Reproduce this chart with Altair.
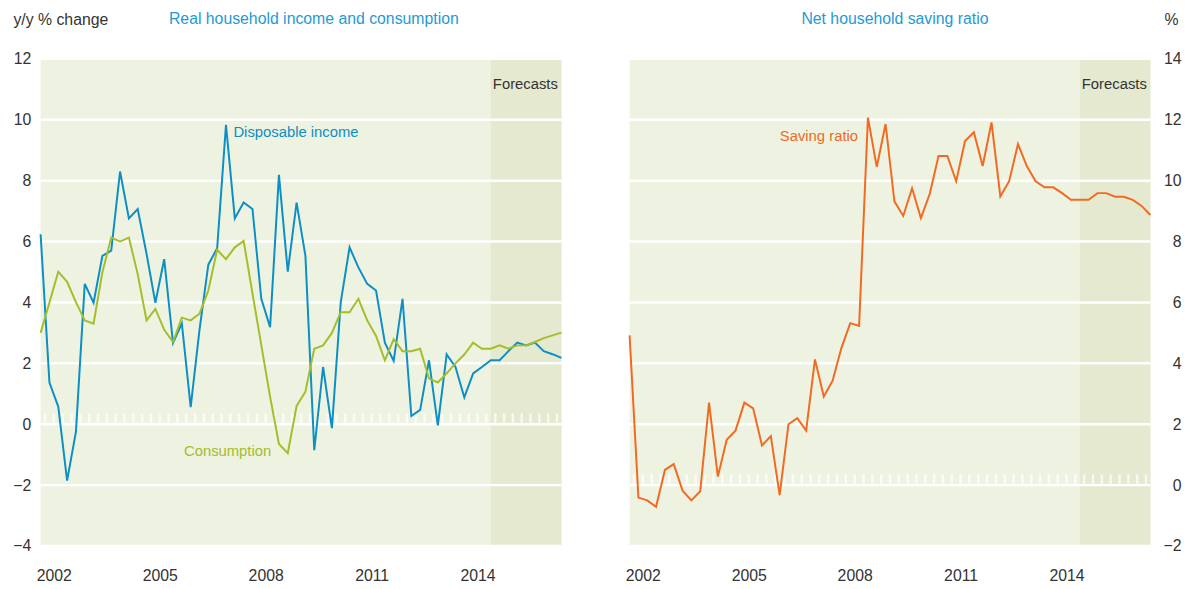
import altair as alt
import pandas as pd

# ---------------- data ----------------
years = list(range(2002, 2017))
quarter_nums = [1, 2, 3, 4]

income = [6.24, 1.37, 0.58, -1.85, -0.25, 4.61, 3.99, 5.53, 5.70, 8.30,
          6.76, 7.07, 5.60, 3.99, 5.42, 2.67, 3.31, 0.56, 3.10, 5.24,
          5.78, 9.83, 6.76, 7.28, 7.07, 4.12, 3.19, 8.19, 5.01, 7.28,
          5.53, -0.85, 1.88, -0.13, 4.00, 5.81, 5.15, 4.61, 4.39, 2.68,
          2.08, 4.12, 0.27, 0.47, 2.10, -0.04, 2.29, 1.88, 0.88, 1.67,
          1.88, 2.10, 2.10, 2.40, 2.68, 2.59, 2.68, 2.40, 2.30, 2.18]

consumption = [3.00, 4.00, 5.01, 4.68, 4.01, 3.41, 3.30, 4.99, 6.13, 6.00,
               6.13, 4.93, 3.41, 3.79, 3.10, 2.70, 3.50, 3.41, 3.63, 4.39,
               5.73, 5.42, 5.81, 6.02, 4.30, 2.60, 0.90, -0.65, -0.95, 0.60,
               1.07, 2.48, 2.59, 3.00, 3.68, 3.68, 4.12, 3.41, 2.90, 2.10,
               2.79, 2.40, 2.40, 2.48, 1.50, 1.37, 1.67, 2.00, 2.29, 2.68,
               2.48, 2.48, 2.59, 2.48, 2.59, 2.59, 2.70, 2.83, 2.92, 3.01]

saving = [4.92, -0.41, -0.50, -0.71, 0.50, 0.69, -0.18, -0.50, -0.20, 2.71,
          0.28, 1.49, 1.79, 2.71, 2.52, 1.30, 1.61, -0.33, 2.00, 2.20,
          1.79, 4.13, 2.91, 3.43, 4.51, 5.32, 5.23, 12.07, 10.45, 11.86,
          9.32, 8.84, 9.75, 8.77, 9.56, 10.81, 10.81, 9.98, 11.30, 11.59,
          10.48, 11.91, 9.48, 9.98, 11.20, 10.48, 9.98, 9.78, 9.78, 9.59,
          9.37, 9.37, 9.37, 9.59, 9.59, 9.47, 9.47, 9.37, 9.17, 8.87]

year_labels = [2002, 2005, 2008, 2011, 2014]
left_ticks = [-4, -2, 0, 2, 4, 6, 8, 10, 12]
right_ticks = [-2, 0, 2, 4, 6, 8, 10, 12, 14]
forecast_start = 2014.75
forecast_end = 2016.75

# ---------------- styling ----------------
FONT = "Liberation Sans, Arial, Helvetica, sans-serif"
FS = 16
FS_ANN = 15
TXT = "#333333"
BG = "#EEF2E1"
FC_BG = "#E4E9CF"
BLUE = "#0B8FC5"
GREEN = "#A4BD2B"
ORANGE = "#F26A21"
TITLE_BLUE = "#1E9AD4"
W, H = 527, 493

# ---------------- tables ----------------
t = [y + (q - 1) / 4 for y in years for q in quarter_nums]
qt_marks = [v + 0.125 for v in t[:-1]]

left_df = pd.DataFrame({
    "t": t * 2,
    "value": income + consumption,
    "series": ["Disposable income"] * len(t) + ["Consumption"] * len(t),
})
right_df = pd.DataFrame({"t": t, "value": saving, "series": ["Saving ratio"] * len(t)})
ticks_df = pd.DataFrame({"tm": qt_marks})
fc_df = pd.DataFrame({"start": [forecast_start], "end": [forecast_end]})

x_scale = alt.Scale(domain=[2002, 2016.75], nice=False, zero=False)
x_axis = alt.Axis(values=[y + 0.375 for y in year_labels], labelExpr="'' + floor(datum.value)",
                  title=None, ticks=False, domain=False, grid=False, labelFont=FONT,
                  labelFontSize=FS, labelColor=TXT, labelPadding=22)


def panel(df, ydomain, yvals, colors, ann, orient, ytitle, title, title_dx):
    y_scale = alt.Scale(domain=ydomain, nice=False, zero=False)
    common = dict(values=yvals, orient=orient, title=ytitle, grid=False, ticks=False,
                  domain=False, labelFont=FONT, labelFontSize=FS, labelColor=TXT,
                  titleAngle=0, titleBaseline="alphabetic", titleY=-35,
                  titleFont=FONT, titleFontSize=FS, titleFontWeight="normal",
                  titleColor=TXT, labelExpr="replace(datum.label, '-', '\u2212')")
    if orient == "left":
        y_axis = alt.Axis(labelPadding=10, titleAlign="left", titleX=-28, **common)
    else:
        y_axis = alt.Axis(labelPadding=31, labelAlign="right", titleAlign="right",
                          titleX=28, **common)

    grid_df = pd.DataFrame({"v": yvals})
    fc = alt.Chart(fc_df).mark_rect(color=FC_BG).encode(
        x=alt.X("start:Q", scale=x_scale, axis=x_axis), x2="end:Q")
    grid = alt.Chart(grid_df).mark_rule(color="white", strokeWidth=2.5).encode(
        y=alt.Y("v:Q", scale=y_scale, axis=y_axis))
    qt = alt.Chart(ticks_df).mark_tick(orient="vertical", color="white", size=11,
                                       thickness=2.5, yOffset=-5.5).encode(
        x=alt.X("tm:Q", scale=x_scale), y=alt.datum(0, scale=y_scale))
    lines = alt.Chart(df).mark_line(strokeWidth=2).encode(
        x=alt.X("t:Q", scale=x_scale),
        y=alt.Y("value:Q", scale=y_scale),
        color=alt.Color("series:N", scale=alt.Scale(domain=list(colors.keys()),
                                                    range=list(colors.values())), legend=None),
    )
    layers = [fc, grid, qt, lines]
    for (txt, x, y, col, align) in ann:
        layers.append(alt.Chart(pd.DataFrame({"x": [x], "y": [y], "txt": [txt]})).mark_text(
            font=FONT, fontSize=FS_ANN, color=col, align=align, baseline="middle").encode(
            x=alt.X("x:Q", scale=x_scale), y=alt.Y("y:Q", scale=y_scale), text="txt:N"))
    return alt.layer(*layers).properties(
        width=W, height=H,
        title=alt.TitleParams(title, color=TITLE_BLUE, font=FONT, fontSize=FS,
                              fontWeight="normal", anchor="middle", dx=title_dx,
                              offset=8, dy=24),
    )


left = panel(left_df, [-4, 12], left_ticks,
             {"Disposable income": BLUE, "Consumption": GREEN},
             [("Disposable income", 2007.46, 9.59, BLUE, "left"),
              ("Consumption", 2006.06, -0.89, GREEN, "left"),
              ("Forecasts", 2016.65, 11.17, TXT, "right")],
             "left", "y/y % change", "Real household income and consumption", 13)
right = panel(right_df, [-2, 14], right_ticks,
              {"Saving ratio": ORANGE},
              [("Saving ratio", 2008.47, 11.45, ORANGE, "right"),
               ("Forecasts", 2016.65, 13.17, TXT, "right")],
              "right", "%", "Net household saving ratio", 5)

chart = alt.hconcat(left, right, spacing=60).resolve_scale(color="independent").configure_view(
    fill=BG, stroke=None).properties(
    padding={"left": 4, "top": 0, "right": 2, "bottom": 0})

chart.save("out.html", embed_options={"renderer": "svg", "actions": False})
